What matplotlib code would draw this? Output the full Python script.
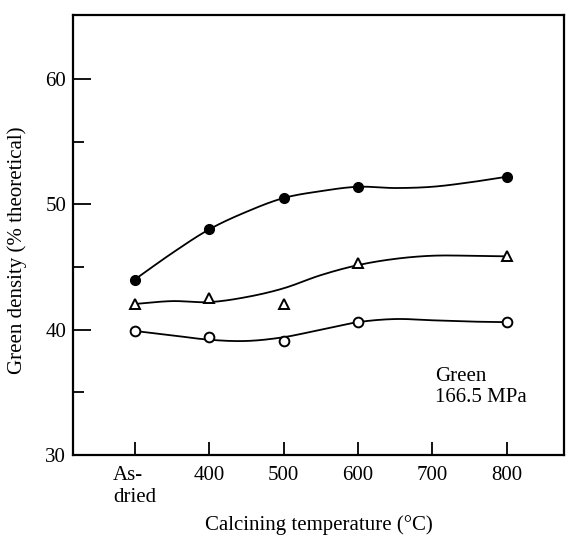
import numpy as np
import matplotlib
matplotlib.use("Agg")
import matplotlib.pyplot as plt
from matplotlib.ticker import FixedLocator

# ---- data ----
temps = [300, 400, 500, 600, 800]          # 300 = "As-dried"
filled = [44.0, 48.0, 50.5, 51.4, 52.2]
triangle = [42.05, 42.5, 42.05, 45.3, 45.85]
opencirc = [39.9, 39.4, 39.1, 40.6, 40.6]

# hand-drawn trend curves
curve_t = [300, 350, 400, 450, 500, 550, 600, 650, 700, 750, 800]
curve_filled = [44.0, 46.1, 48.0, 49.4, 50.5, 51.05, 51.4, 51.3, 51.4, 51.75, 52.2]
curve_triangle = [42.05, 42.28, 42.2, 42.6, 43.3, 44.35, 45.15, 45.65, 45.9, 45.9, 45.85]
curve_open = [39.9, 39.55, 39.2, 39.1, 39.4, 40.0, 40.6, 40.85, 40.75, 40.65, 40.6]

xticks = [300, 400, 500, 600, 700, 800]
xticklabels = ["As-\ndried", "400", "500", "600", "700", "800"]
yticks = [30, 40, 50, 60]
yminor = [35, 45, 55]


def smooth(xs, ys, n=20):
    """Catmull-Rom style cubic Hermite through the given values."""
    xs = np.asarray(xs, float)
    ys = np.asarray(ys, float)
    m = np.gradient(ys, xs)
    out_x, out_y = [], []
    for i in range(len(xs) - 1):
        h = xs[i + 1] - xs[i]
        t = np.linspace(0, 1, n, endpoint=False)
        h00 = 2 * t**3 - 3 * t**2 + 1
        h10 = t**3 - 2 * t**2 + t
        h01 = -2 * t**3 + 3 * t**2
        h11 = t**3 - t**2
        out_x.append(xs[i] + t * h)
        out_y.append(h00 * ys[i] + h10 * h * m[i] + h01 * ys[i + 1] + h11 * h * m[i + 1])
    out_x.append([xs[-1]])
    out_y.append([ys[-1]])
    return np.concatenate(out_x), np.concatenate(out_y)


plt.rcParams["font.family"] = ["Liberation Serif", "DejaVu Serif"]

fig = plt.figure(figsize=(5.66, 5.36), dpi=100)
ax = fig.add_axes([0.129, 0.151, 0.8675, 0.821])

lw = 1.3
for cx, cy in [(curve_t, curve_filled), (curve_t, curve_triangle), (curve_t, curve_open)]:
    sx, sy = smooth(cx, cy)
    ax.plot(sx, sy, color="black", lw=lw, zorder=2)

ax.plot(temps, filled, "o", color="black", ms=7, zorder=3)
ax.plot(temps, triangle, "^", mfc="white", mec="black", mew=1.4, ms=7, zorder=3)
ax.plot(temps, opencirc, "o", mfc="white", mec="black", mew=1.4, ms=7, zorder=3)

ax.set_xlim(217, 877)
ax.set_ylim(30, 65.1)

ax.set_xticks(xticks)
ax.set_xticklabels(xticklabels, fontsize=15)
for lab in ax.get_xticklabels():
    lab.set_multialignment("left")
ax.set_yticks(yticks)
ax.set_yticklabels([str(v) for v in yticks], fontsize=15)
ax.yaxis.set_minor_locator(FixedLocator(yminor))

ax.tick_params(axis="x", direction="in", length=9.5, width=1.3, pad=8)
ax.tick_params(axis="y", which="major", direction="in", length=13, width=1.3, pad=5)
ax.tick_params(axis="y", which="minor", direction="in", length=8, width=1.3)

for s in ax.spines.values():
    s.set_linewidth(1.6)

ax.set_xlabel("Calcining temperature (°C)", fontsize=15, labelpad=6)
ax.set_ylabel("Green density (% theoretical)", fontsize=15)
ax.yaxis.set_label_coords(-0.094, 0.466)

ax.text(704, 37.0, "Green\n166.5 MPa", fontsize=15, ha="left", va="top",
        linespacing=1.1)

fig.savefig("out.png", dpi=100)
